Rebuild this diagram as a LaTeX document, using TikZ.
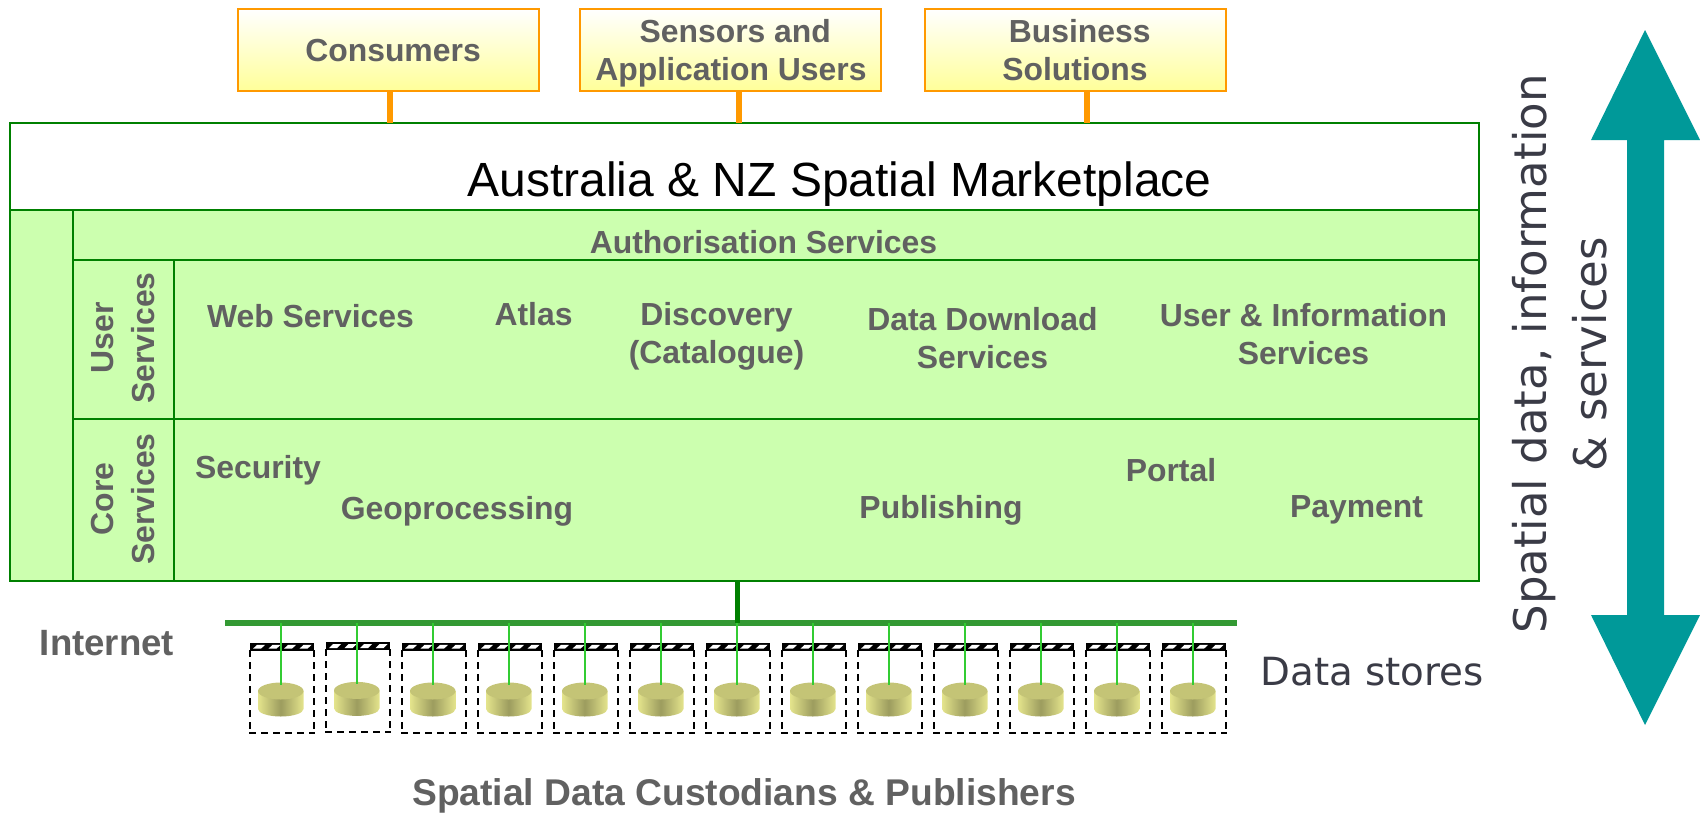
\documentclass[tikz,border=0pt]{standalone}
\usepackage{fontspec}
\setmainfont{Liberation Sans}
\newfontfamily\humanist{DejaVu Sans}
\usetikzlibrary{calc}
\definecolor{txtgrey}{HTML}{616161}
\definecolor{boxorange}{HTML}{FF9900}
\definecolor{paleyellow}{HTML}{FFFF99}
\definecolor{panelgreen}{HTML}{CCFFAF}
\definecolor{linegreen}{HTML}{008000}
\definecolor{softgreen}{HTML}{339933}
\definecolor{tapgreen}{HTML}{33CC33}
\definecolor{teal}{HTML}{009999}
\definecolor{inkdark}{HTML}{3A3B46}
\definecolor{cylA}{HTML}{E4E48C}
\definecolor{cylB}{HTML}{9C9C5E}
\definecolor{cylTop}{HTML}{C4C476}
\tikzset{
  x=1pt,y=-1pt,
  actor/.style={draw=boxorange,line width=2.4pt,top color=white,bottom color=paleyellow,
    inner sep=0pt,outer sep=0pt,anchor=north west},
  label/.style={text=txtgrey,inner sep=0pt,align=center,font=\fontsize{31.9}{38}\selectfont\bfseries},
  vlabel/.style={label,rotate=90,font=\fontsize{31.9}{41}\selectfont\bfseries},
  bright/.style={text=inkdark,inner sep=0pt,align=center,font=\fontsize{45}{62}\humanist},
  panel/.style={draw=linegreen,line width=2pt,fill=panelgreen},
  stem/.style={draw=boxorange,line width=6pt},
  tap/.style={draw=tapgreen,line width=1.8pt},
  dashline/.style={draw=black,line width=2pt,dash pattern=on 7pt off 5pt},
}
\begin{document}
\begin{tikzpicture}
\useasboundingbox (0,0) rectangle (1700,812);
% actors
\node[actor,minimum width=301,minimum height=82] (cons) at (238,9) {};
\node[actor,minimum width=301,minimum height=82] (sens) at (580,9) {};
\node[actor,minimum width=301,minimum height=82] (bus) at (925,9) {};
\node[label] (consT) at (393,51) {Consumers};
\node[label] (sensT) at (731,54) {\strut\hspace*{8.5pt}Sensors and\\Application Users\strut};
\node[label] (busT) at (1075,54) {\strut\hspace*{9.5pt}Business\\Solutions\strut};
% panels
\node[draw=linegreen,line width=2pt,fill=white,inner sep=0pt,outer sep=0pt,anchor=north west,minimum width=1469,minimum height=87] (market) at (10,123) {};
\node[inner sep=0pt,font=\fontsize{48}{56}\selectfont] (title) at (839.5,184) {Australia \& NZ Spatial Marketplace};
\draw[panel] (10,210) rectangle (1479,581);
\coordinate (outerS) at (737,581);
\draw[panel] (73,210) rectangle (1479,260);
\draw[panel] (73,260) rectangle (174,419);
\draw[panel] (174,260) rectangle (1479,419);
\draw[panel] (73,419) rectangle (174,581);
\draw[panel] (174,419) rectangle (1479,581);
% stems
\coordinate (c1) at ($(cons.south)+(1.5,0)$);
\coordinate (c2) at ($(sens.south)+(8,0)$);
\coordinate (c3) at ($(bus.south)+(11,0)$);
\draw[stem] (c1) -- (c1 |- market.north);
\draw[stem] (c2) -- (c2 |- market.north);
\draw[stem] (c3) -- (c3 |- market.north);
% panel labels
\node[label] (auth) at (763.5,242) {Authorisation Services};
\node[vlabel] (us) at (123,338) {User\\Services};
\node[vlabel] (cs) at (123,499) {Core\\Services};
\node[label] (web) at (310.5,316) {Web Services};
\node[label] (atlas) at (533.5,314) {Atlas};
\node[label] (disc) at (716.5,336) {Discovery\\(Catalogue)};
\node[label] (dl) at (982.5,338) {Data Download\\Services};
\node[label] (ui) at (1303.5,334) {User \& Information\\Services};
\node[label] (sec) at (258,470) {Security};
\node[label] (geo) at (457,511) {Geoprocessing};
\node[label] (pub) at (941,510) {Publishing};
\node[label] (por) at (1171,470) {Portal};
\node[label] (pay) at (1356.5,510) {Payment};
% bus
\coordinate (barL) at (225,623);
\coordinate (barR) at (1237,623);
\coordinate (barMid) at (737,623);
\draw[softgreen,line width=6pt] (barL) -- (barR);
\draw[linegreen,line width=5pt] (outerS) -- (barMid);
% data stores
\foreach \i [count=\n from 0] in {0,-0.6,0,0,0,0,0,0,0,0,0,0,0}{
  \begin{scope}[shift={({250+76*\n},{643+\i})}]
    \fill[black] (0,0) rectangle (64,7.5);
    \foreach \k in {0,...,3}{
      \fill[white] ({3+\k*15.5},5.7) -- ({7+\k*15.5},1.8) -- ({15+\k*15.5},1.8) -- ({11+\k*15.5},5.7) -- cycle;
    }
    \draw[dashline] (0,7) -- (0,90);
    \draw[dashline] (64,7) -- (64,90);
    \draw[dashline] (-1,90) -- (65,90);
    \shade[left color=cylA,right color=cylA,middle color=cylB]
      (8,48) -- (8,66) arc[start angle=180,end angle=0,x radius=22.75,y radius=7.5] -- (53.5,48) -- cycle;
    \fill[cylTop] (30.75,48) ellipse[x radius=22.75,y radius=8.5];
    \coordinate (st\n) at (31,42);
  \end{scope}
  \draw[tap] (st\n |- barMid) -- (st\n);
}
\node[label,font=\fontsize{36.6}{44}\selectfont\bfseries] (net) at (107,643) {Internet};
\node[bright,font=\fontsize{38.8}{46}\humanist] (ds) at (1372,672) {Data stores};
\node[label,font=\fontsize{37.2}{44}\selectfont\bfseries] (cust) at (744,796) {Spatial Data Custodians \& Publishers};
\node[bright,rotate=90] (side1) at (1534,354) {Spatial data, information};
\node[bright,rotate=90] (side2) at (1590,354) {\& services};
% arrow
\fill[teal] (1645,30) -- (1700,140) -- (1664,140) -- (1664,615) -- (1700,615) -- (1645,725) -- (1591,615) -- (1627,615) -- (1627,140) -- (1591,140) -- cycle;
\end{tikzpicture}
\end{document}
